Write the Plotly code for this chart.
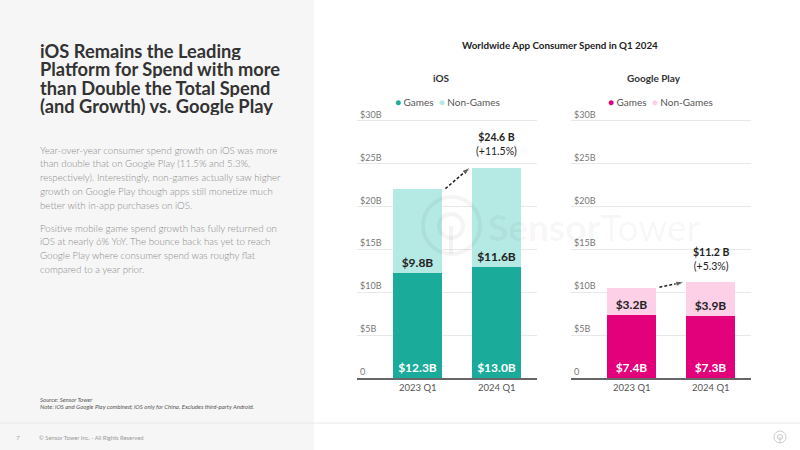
import plotly.graph_objects as go

# ---------------- data ----------------
quarters = ["2023 Q1", "2024 Q1"]
ios_games = [12.3, 13.0]
ios_nongames = [9.8, 11.6]
gp_games = [7.4, 7.3]
gp_nongames = [3.2, 3.9]
growth_labels = ["+11.5%", "+5.3%"]
y_tickvals = [0, 5, 10, 15, 20, 25, 30]
y_ticktext = ["0", "$5B", "$10B", "$15B", "$20B", "$25B", "$30B"]

title_lines = [
    "iOS Remains the Leading",
    "Platform for Spend with more",
    "than Double the Total Spend",
    "(and Growth) vs. Google Play",
]
body_p1 = [
    "Year-over-year consumer spend growth on iOS was more",
    "than double that on Google Play (11.5% and 5.3%,",
    "respectively). Interestingly, non-games actually saw higher",
    "growth on Google Play though apps still monetize much",
    "better with in-app purchases on iOS.",
]
body_p2 = [
    "Positive mobile game spend growth has fully returned on",
    "iOS at nearly 6% YoY. The bounce back has yet to reach",
    "Google Play where consumer spend was roughy flat",
    "compared to a year prior.",
]

IOS_G, IOS_N = "#1aab9b", "#b4e9e4"
GP_G, GP_N = "#e2007b", "#fdd0e8"
FONT = "Lato"
W, H = 800, 450
BAR_W = 0.62
Y_TOP = 32.5
PX_PER_B = 8.567
WM = "rgba(0,0,0,0.045)"


def px(x):
    return x / W


def py(y):
    return 1 - y / H


fig = go.Figure()
xs = list(range(len(quarters)))


def add_platform(games, nongames, gcol, ncol, xa, ya):
    fig.add_trace(go.Bar(
        x=xs, y=games, width=BAR_W, name="Games", marker=dict(color=gcol, line=dict(width=0)),
        text=[f"<b>${v:.1f}B</b>" for v in games], textposition="inside",
        insidetextanchor="start", textfont=dict(color="white", size=12, family=FONT),
        xaxis=xa, yaxis=ya, showlegend=False, hoverinfo="skip"))
    fig.add_trace(go.Bar(
        x=xs, y=nongames, width=BAR_W, name="Non-Games", marker=dict(color=ncol, line=dict(width=0)),
        text=[f"<b>${v:.1f}B</b>" for v in nongames], textposition="inside",
        insidetextanchor="start", textfont=dict(color="#222222", size=12, family=FONT),
        xaxis=xa, yaxis=ya, showlegend=False, hoverinfo="skip"))
    totals = [round(g + n, 1) for g, n in zip(games, nongames)]
    # dashed growth arrow
    fig.add_trace(go.Scatter(
        x=[xs[0] + BAR_W / 2 + 0.04, xs[1] - BAR_W / 2 - 0.025],
        y=[totals[0], totals[1]],
        mode="lines+markers",
        line=dict(color="#222222", width=1.5, dash="3px,2px"),
        marker=dict(symbol="arrow", size=[0, 9], angleref="previous", color="#222222"),
        xaxis=xa, yaxis=ya, showlegend=False, hoverinfo="skip"))
    return totals


ios_tot = add_platform(ios_games, ios_nongames, IOS_G, IOS_N, "x", "y")
gp_tot = add_platform(gp_games, gp_nongames, GP_G, GP_N, "x2", "y2")

ann = []
for tot, gl, xr, yr in [(ios_tot, growth_labels[0], "x", "y"), (gp_tot, growth_labels[1], "x2", "y2")]:
    ann.append(dict(x=xs[1], y=tot[1], xref=xr, yref=yr, yanchor="bottom", yshift=8,
                    text=f"<b>${tot[1]:.1f} B</b><br>({gl})", showarrow=False,
                    font=dict(size=10.5, color="#222222", family=FONT)))

# left panel text
for i, line in enumerate(title_lines):
    ann.append(dict(x=px(38), y=py(51 + i * 18.4), xref="paper", yref="paper",
                    xanchor="left", yanchor="middle", height=18, valign="middle",
                    text=f"<b>{line}</b>", showarrow=False,
                    font=dict(size=18.3, color="#333333", family=FONT)))
for i, line in enumerate(body_p1):
    ann.append(dict(x=px(38), y=py(149 + i * 13.8), xref="paper", yref="paper",
                    xanchor="left", yanchor="middle", height=13, valign="middle",
                    text=line, showarrow=False,
                    font=dict(size=9.7, color="#8a8a8a", family=FONT, weight=300)))
for i, line in enumerate(body_p2):
    ann.append(dict(x=px(38), y=py(227 + i * 13.8), xref="paper", yref="paper",
                    xanchor="left", yanchor="middle", height=13, valign="middle",
                    text=line, showarrow=False,
                    font=dict(size=9.7, color="#8a8a8a", family=FONT, weight=300)))
ann.append(dict(x=px(38), y=py(399), xref="paper", yref="paper", xanchor="left", yanchor="middle",
                height=7, text="<i>Source: Sensor Tower</i>", showarrow=False,
                font=dict(size=6, color="#555555", family=FONT)))
ann.append(dict(x=px(38), y=py(406.5), xref="paper", yref="paper", xanchor="left", yanchor="middle",
                height=7,
                text="<i>Note: iOS and Google Play combined; iOS only for China. Excludes third-party Android.</i>",
                showarrow=False, font=dict(size=6, color="#555555", family=FONT)))
ann.append(dict(x=px(14), y=py(437), xref="paper", yref="paper", xanchor="left", yanchor="middle",
                text="7", showarrow=False, font=dict(size=6.5, color="#aaaaaa", family=FONT)))
ann.append(dict(x=px(37), y=py(437), xref="paper", yref="paper", xanchor="left", yanchor="middle",
                text="© Sensor Tower Inc. - All Rights Reserved", showarrow=False,
                font=dict(size=5.8, color="#999999", family=FONT)))

# chart titles & legends
ann.append(dict(x=px(560), y=py(45), xref="paper", yref="paper", xanchor="center", yanchor="middle",
                text="<b>Worldwide App Consumer Spend in Q1 2024</b>", showarrow=False,
                font=dict(size=9.8, color="#222222", family=FONT)))
ann.append(dict(x=px(441), y=py(78), xref="paper", yref="paper", xanchor="center", yanchor="middle",
                text="<b>iOS</b>", showarrow=False, font=dict(size=10, color="#333333", family=FONT)))
ann.append(dict(x=px(654), y=py(78), xref="paper", yref="paper", xanchor="center", yanchor="middle",
                text="<b>Google Play</b>", showarrow=False, font=dict(size=10, color="#333333", family=FONT)))
for x0, gc, nc in [(393, IOS_G, IOS_N), (606, GP_G, GP_N)]:
    ann.append(dict(x=px(x0), y=py(102), xref="paper", yref="paper", xanchor="left", yanchor="middle",
                    text=f'<span style="color:{gc}">●</span> Games  <span style="color:{nc}">●</span> Non-Games',
                    showarrow=False, font=dict(size=10, color="#555555", family=FONT)))

# watermark
ann.append(dict(x=px(486), y=py(226), xref="paper", yref="paper", xanchor="left", yanchor="middle",
                text="<b>Sensor</b>Tower", showarrow=False,
                font=dict(size=37, color=WM, family=FONT)))

shapes = [
    dict(type="rect", xref="paper", yref="paper", x0=0, x1=px(314), y0=0, y1=1,
         fillcolor="#f6f6f6", line=dict(width=0), layer="below"),
    dict(type="line", xref="paper", yref="paper", x0=0, x1=1, y0=py(423), y1=py(423),
         line=dict(color="#e8e8e8", width=1)),
    dict(type="circle", xref="paper", yref="paper", x0=px(423), x1=px(480), y0=py(254), y1=py(197),
         line=dict(color=WM, width=4), layer="above"),
    dict(type="circle", xref="paper", yref="paper", x0=px(439), x1=px(463), y0=py(238), y1=py(214),
         line=dict(color=WM, width=4), layer="above"),
    dict(type="line", xref="paper", yref="paper", x0=px(451), x1=px(451), y0=py(226), y1=py(254),
         line=dict(color=WM, width=4), layer="above"),
    dict(type="circle", xref="paper", yref="paper", x0=px(774), x1=px(786), y0=py(443), y1=py(431),
         line=dict(color="#cccccc", width=1)),
    dict(type="circle", xref="paper", yref="paper", x0=px(777.5), x1=px(782.5), y0=py(439.5), y1=py(434.5),
         line=dict(color="#cccccc", width=1)),
    dict(type="line", xref="paper", yref="paper", x0=px(780), x1=px(780), y0=py(437), y1=py(443),
         line=dict(color="#cccccc", width=1)),
]

xaxis_common = dict(range=[-0.77, 1.51], tickvals=xs, ticktext=quarters, showgrid=False,
                    showline=True, linecolor="#666666", linewidth=1.5, zeroline=False,
                    ticks="", tickfont=dict(size=9.5, color="#555555", family=FONT), fixedrange=True)
yaxis_common = dict(range=[0, Y_TOP], tickvals=y_tickvals, ticktext=y_ticktext, showgrid=True,
                    gridcolor="#e8e8e8", gridwidth=1, zeroline=False, showline=False, ticks="",
                    ticklabelposition="inside top", tickfont=dict(size=9, color="#777777", family=FONT),
                    domain=[py(378), py(378 - Y_TOP * PX_PER_B)], fixedrange=True)

fig.update_layout(
    width=W, height=H, margin=dict(l=0, r=0, t=0, b=0),
    paper_bgcolor="white", plot_bgcolor="rgba(0,0,0,0)",
    barmode="stack", bargap=0, showlegend=False,
    font=dict(family=FONT),
    xaxis=dict(domain=[px(357), px(537)], anchor="y", **xaxis_common),
    yaxis=dict(anchor="x", **yaxis_common),
    xaxis2=dict(domain=[px(571), px(751)], anchor="y2", **xaxis_common),
    yaxis2=dict(anchor="x2", **yaxis_common),
    annotations=ann, shapes=shapes,
)

fig.write_html("out.html")
